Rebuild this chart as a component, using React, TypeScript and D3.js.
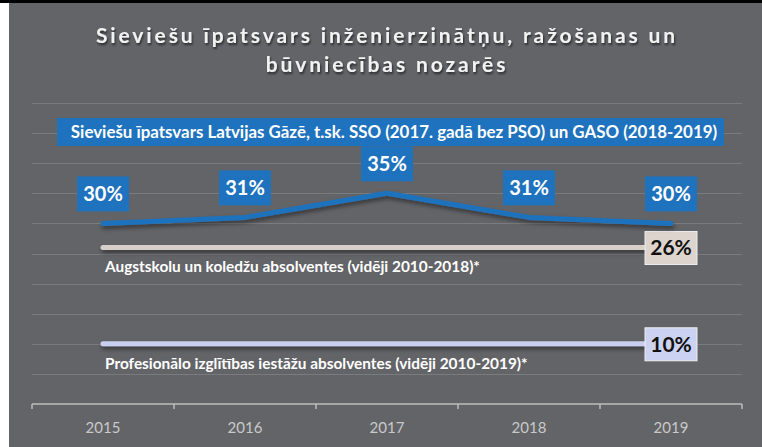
import React, { useEffect, useRef } from "react";
import * as d3 from "d3";

const years = ["2015", "2016", "2017", "2018", "2019"];
const gasValues = [30, 31, 35, 31, 30];
const universityAvg = 26;
const vocationalAvg = 10;

const titleLines = [
  "Sieviešu īpatsvars inženierzinātņu, ražošanas un",
  "būvniecības nozarēs",
];
const gasLabel =
  "Sieviešu īpatsvars Latvijas Gāzē, t.sk. SSO (2017. gadā bez PSO) un GASO (2018-2019)";
const universityLabel = "Augstskolu un koledžu absolventes (vidēji 2010-2018)*";
const vocationalLabel = "Profesionālo izglītības iestāžu absolventes (vidēji 2010-2019)*";

const W = 762;
const H = 447;
const FONT = "Lato, 'Open Sans', sans-serif";

const App = () => {
  const ref = useRef<SVGSVGElement | null>(null);

  useEffect(() => {
    drawChart();
  }, []);

  const drawChart = () => {
    const svg = d3.select(ref.current);
    svg.selectAll("*").remove();

    const defs = svg.append("defs");
    // user space region so flat (zero height) lines still get drawn
    const sh = defs.append("filter")
      .attr("id", "lineShadow")
      .attr("filterUnits", "userSpaceOnUse")
      .attr("x", 0).attr("y", 0).attr("width", W).attr("height", H);
    sh.append("feDropShadow")
      .attr("dx", 1).attr("dy", 3).attr("stdDeviation", 2)
      .attr("flood-color", "#000").attr("flood-opacity", 0.45);
    const tsh = defs.append("filter").attr("id", "textShadow");
    tsh.append("feDropShadow")
      .attr("dx", 1).attr("dy", 2).attr("stdDeviation", 1)
      .attr("flood-color", "#000").attr("flood-opacity", 0.6);

    // background
    svg.append("rect").attr("width", W).attr("height", H).attr("fill", "#fff");
    svg.append("rect").attr("x", 9).attr("y", 0).attr("width", W - 9).attr("height", H).attr("fill", "#636468");
    svg.append("rect").attr("x", 0).attr("y", 0).attr("width", W).attr("height", 3).attr("fill", "#000");

    // title
    svg.append("g")
      .selectAll("text")
      .data(titleLines)
      .enter()
      .append("text")
      .attr("x", 387)
      .attr("y", (d, i) => 43 + i * 29)
      .attr("text-anchor", "middle")
      .attr("font-family", FONT)
      .attr("font-weight", "bold")
      .attr("font-size", 21)
      .attr("letter-spacing", 2.9)
      .attr("fill", "#f2f2f2")
      .attr("filter", "url(#textShadow)")
      .text((d) => d);

    const x = d3.scaleBand().domain(years).range([32, 742]);
    const y = d3.scaleLinear().domain([0, 50]).range([404, 103]);
    const cx = (yr: string) => (x(yr) as number) + x.bandwidth() / 2;

    // gridlines
    svg.append("g")
      .selectAll("line")
      .data(d3.range(5, 51, 5))
      .enter()
      .append("line")
      .attr("x1", 32).attr("x2", 742)
      .attr("y1", (d) => Math.round(y(d)) + 0.5)
      .attr("y2", (d) => Math.round(y(d)) + 0.5)
      .attr("stroke", "#7a7b7e")
      .attr("stroke-width", 1);

    // x axis
    const axis = svg.append("g").attr("transform", `translate(0,${y(0)})`);
    axis.append("line").attr("x1", 32).attr("x2", 742).attr("stroke", "#bdbdbd").attr("stroke-width", 1.5);
    axis.selectAll(".tick")
      .data(years.map((yr) => x(yr) as number).concat([742]))
      .enter()
      .append("line")
      .attr("x1", (d) => d).attr("x2", (d) => d)
      .attr("y1", 0).attr("y2", 5)
      .attr("stroke", "#bdbdbd").attr("stroke-width", 1.5);
    axis.selectAll("text")
      .data(years)
      .enter()
      .append("text")
      .attr("x", (d) => cx(d))
      .attr("y", 29)
      .attr("text-anchor", "middle")
      .attr("font-family", FONT)
      .attr("font-size", 15)
      .attr("fill", "#c9c9c9")
      .text((d) => d);

    // legend box for blue series
    svg.append("rect")
      .attr("x", 57).attr("y", 118).attr("width", 667).attr("height", 28)
      .attr("fill", "#1f72bd");
    svg.append("text")
      .attr("x", 394).attr("y", 138)
      .attr("text-anchor", "middle")
      .attr("font-family", FONT).attr("font-weight", "bold").attr("font-size", 16.9)
      .attr("fill", "#fff")
      .text(gasLabel);

    // flat average lines
    const flat = [
      { v: universityAvg, color: "#d8d0c8", box: "#ddd5cd", label: universityLabel },
      { v: vocationalAvg, color: "#c8cff0", box: "#ccd3f2", label: vocationalLabel },
    ];
    flat.forEach((f) => {
      const yy = y(f.v);
      svg.append("line")
        .attr("x1", cx(years[0])).attr("x2", cx(years[years.length - 1]))
        .attr("y1", yy).attr("y2", yy)
        .attr("stroke", f.color).attr("stroke-width", 5)
        .attr("stroke-linecap", "round")
        .attr("filter", "url(#lineShadow)");
      svg.append("text")
        .attr("x", 105).attr("y", yy + 25)
        .attr("font-family", FONT).attr("font-weight", "bold").attr("font-size", 15.4)
        .attr("fill", "#fff")
        .text(f.label);
      const bx = cx(years[years.length - 1]);
      svg.append("rect")
        .attr("x", bx - 26).attr("y", yy - 16).attr("width", 52).attr("height", 33)
        .attr("fill", f.box).attr("stroke", "#eeeeee").attr("stroke-width", 1);
      svg.append("text")
        .attr("x", bx).attr("y", yy + 8)
        .attr("text-anchor", "middle")
        .attr("font-family", FONT).attr("font-weight", "bold").attr("font-size", 21)
        .attr("fill", "#111")
        .text(`${f.v}%`);
    });

    // blue series line
    const line = d3.line<number>()
      .x((d, i) => cx(years[i]))
      .y((d) => y(d));
    svg.append("path")
      .datum(gasValues)
      .attr("d", line)
      .attr("fill", "none")
      .attr("stroke", "#1f72bd")
      .attr("stroke-width", 5)
      .attr("stroke-linecap", "round")
      .attr("stroke-linejoin", "round")
      .attr("filter", "url(#lineShadow)");

    // data labels
    const lbl = svg.append("g")
      .selectAll("g")
      .data(gasValues)
      .enter()
      .append("g")
      .attr("transform", (d, i) => `translate(${cx(years[i])},${y(d) - 12})`);
    lbl.append("rect")
      .attr("x", -26).attr("y", -35).attr("width", 52).attr("height", 35)
      .attr("fill", "#1f72bd");
    lbl.append("text")
      .attr("y", -10)
      .attr("text-anchor", "middle")
      .attr("font-family", FONT).attr("font-weight", "bold").attr("font-size", 20)
      .attr("fill", "#fff")
      .text((d) => `${d}%`);
  };

  return (
    <svg
      ref={ref}
      width={W}
      height={H}
      style={{ position: "absolute", left: 0, top: 0, display: "block" }}
    />
  );
};

export default App;
